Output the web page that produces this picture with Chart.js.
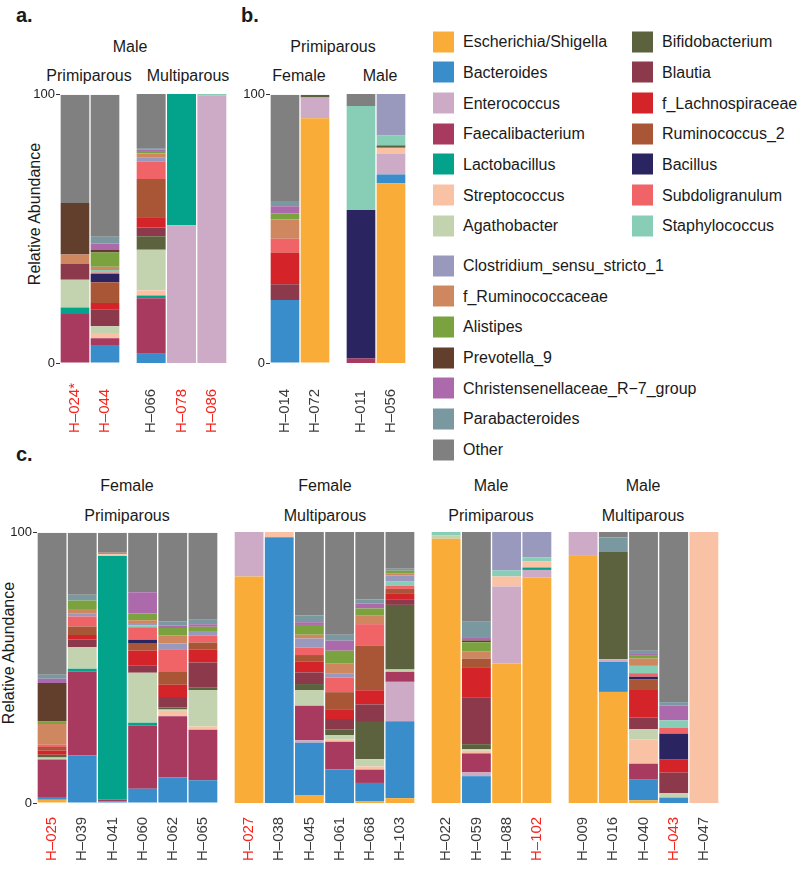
<!DOCTYPE html>
<html lang="en">
<head>
<meta charset="UTF-8">
<title>Relative abundance of genera</title>
<script src="https://cdn.jsdelivr.net/npm/chart.js"></script>
<style>
body { margin: 0; width: 800px; height: 873px; overflow: hidden; background: #fff;
       font-family: "Liberation Sans", Arial, Helvetica, sans-serif; color: #1a1a1a; }
canvas { position: absolute; }
.txt { position: absolute; white-space: nowrap; font-size: 16px; transform: translate(-50%, -50%); }
.letter { position: absolute; font-size: 20px; font-weight: bold; transform: translateY(-50%); }
.ytitle { position: absolute; font-size: 16px; white-space: nowrap; transform: translate(-50%, -50%) rotate(-90deg); }
.leg { position: absolute; font-size: 16px; white-space: nowrap; display: flex; align-items: center; transform: translateY(-50%); }
.leg span { display: inline-block; width: 21px; height: 21px; margin-right: 9px; }
</style>
</head>
<body>

<div class="letter" style="left:16px;top:15px">a.</div>
<div class="letter" style="left:241px;top:15px">b.</div>
<div class="letter" style="left:16px;top:454px">c.</div>

<div class="txt" style="left:130px;top:47px">Male</div>
<div class="txt" style="left:89px;top:76px">Primiparous</div>
<div class="txt" style="left:188px;top:76px">Multiparous</div>
<div class="txt" style="left:333px;top:47px">Primiparous</div>
<div class="txt" style="left:299px;top:76px">Female</div>
<div class="txt" style="left:380px;top:76px">Male</div>

<div class="txt" style="left:127px;top:486px">Female</div>
<div class="txt" style="left:127px;top:516px">Primiparous</div>
<div class="txt" style="left:325px;top:486px">Female</div>
<div class="txt" style="left:325px;top:516px">Multiparous</div>
<div class="txt" style="left:491px;top:486px">Male</div>
<div class="txt" style="left:491px;top:516px">Primiparous</div>
<div class="txt" style="left:643px;top:486px">Male</div>
<div class="txt" style="left:643px;top:516px">Multiparous</div>

<div class="ytitle" style="left:35px;top:214px">Relative Abundance</div>
<div class="ytitle" style="left:9px;top:653px">Relative Abundance</div>

<div id="legend"></div>

<canvas id="a1"></canvas>
<canvas id="a2"></canvas>
<canvas id="b1"></canvas>
<canvas id="b2"></canvas>
<canvas id="c1"></canvas>
<canvas id="c2"></canvas>
<canvas id="c3"></canvas>
<canvas id="c4"></canvas>

<script>
// genera, bottom of the stack first
const taxa = ['Escherichia/Shigella', 'Bacteroides', 'Enterococcus', 'Faecalibacterium',
  'Lactobacillus', 'Streptococcus', 'Agathobacter', 'Bifidobacterium', 'Blautia',
  'f_Lachnospiraceae', 'Ruminococcus_2', 'Bacillus', 'Subdoligranulum', 'Staphylococcus',
  'Clostridium_sensu_stricto_1', 'f_Ruminococcaceae', 'Alistipes', 'Prevotella_9',
  'Christensenellaceae_R\u22127_group', 'Parabacteroides', 'Other'];

// relative abundance (%) per sample, same order as taxa
//            Esc  Bac  Ent  Fae   Lac  Str  Aga  Bif  Bla  fLa  Ru2  Bcl  Sub  Sta  Clo  fRu  Ali  Pre  Chr  Par  Oth
const H024 = [0,   0,   0,   18.3, 2.4, 0,   10.3,0,   5.9, 0,   0,   0,   0,   0,   0,   3.6, 0,   19.2,0,   0,   40.3];
const H044 = [0,   6.7, 0,   2.5,  0,   2,   2.5, 0,   6.2, 2.5, 7.7, 3.1, 0.5, 1,   0,   1.2, 5.3, 0.9, 2.5, 2.5, 52.9];
const H066 = [0,   3.7, 0,   20.4, 1,   1.9, 15.1,5,   3.3, 3.8, 14.2,0,   6.4, 0,   1.5, 1.6, 0.9, 0,   0.6, 0.5, 20.1];
const H078 = [0,   0,   51.2,0,    48.8,0,   0,   0,   0,   0,   0,   0,   0,   0,   0,   0,   0,   0,   0,   0,   0];
const H086 = [0,   0,   99.4,0,    0,   0,   0,   0,   0,   0,   0,   0,   0,   0.6, 0,   0,   0,   0,   0,   0,   0];

const H014 = [0,   23.5,0,   0,    0,   0,   0,   0,   5.9, 11.8,0,   0,   5.1, 0,   0,   7.2, 2.2, 0,   2.7, 2,   39.6];
const H072 = [91.3,0,   7.7, 0,    0,   0,   0,   1,   0,   0,   0,   0,   0,   0,   0,   0,   0,   0,   0,   0,   0];
const H011 = [0,   0,   0,   1.7,  0,   0,   0,   0,   0,   0,   0,   55.2,0,   38.6,0,   0,   0,   0,   0,   0,   4.5];
const H056 = [66.8,3.3, 7.8, 0,    0,   2.1, 0,   0.9, 0,   0,   0,   0,   0,   3.7, 15.4,0,   0,   0,   0,   0,   0];

const H025 = [1.2, 1,   0,   13.9, 0,   0,   0.7, 1.1, 0,   1.5, 1.3, 0,   0.9, 0,   0,   7.6, 1,   14.2,1.6, 1.5, 52.5];
const H039 = [0,   17.6,0,   31.1, 1,   0,   8,   0,   2.8, 1.7, 3.1, 0,   3.7, 0,   1,   1.8, 3.1, 0,   0,   2.2, 22.9];
const H041 = [0,   0.6, 0,   0.7,  90.1,0.7, 0,   0,   0,   0,   0,   0,   0,   0,   0,   0.5, 0,   0,   0,   0,   7.4];
const H060 = [0,   5.3, 0,   23.4, 1,   0,   18.5,0,   2.8, 5.4, 2.8, 1.2, 4.6, 0.7, 0.9, 1,   2.5, 0,   7.9, 0,   22];
const H062 = [0,   9.4, 0,   22.7, 0,   2,   0.5, 0.7, 3.9, 4.6, 4.7, 0,   8.4, 0,   2.1, 3.1, 2.7, 0,   0.9, 1.6, 32.7];
const H065 = [0,   8.4, 0,   18.7, 0,   1.2, 13.5,1,   9.2, 4.7, 2.7, 0,   2.5, 0,   1.8, 0,   1.5, 0,   1,   1.6, 32.2];

const H027 = [83.6,0,   16.4,0,    0,   0,   0,   0,   0,   0,   0,   0,   0,   0,   0,   0,   0,   0,   0,   0,   0];
const H038 = [0,   98.1,0,   0,    0,   1.9, 0,   0,   0,   0,   0,   0,   0,   0,   0,   0,   0,   0,   0,   0,   0];
const H045 = [2.8, 19.4,1,   12.7, 0,   0,   5.8, 2.2, 4.3, 3.9, 2.5, 0,   2.8, 0,   3.3, 1.4, 3.6, 0,   1,   2.5, 30.8];
const H061 = [0,   12.5,0,   10.1, 0,   0.9, 1.6, 2.1, 3.8, 3.6, 6.3, 0,   5.4, 0,   1.6, 3.5, 4.8, 0,   3.7, 2.2, 37.9];
const H068 = [0.7, 6.7, 0,   4.9,  0,   1.2, 2.6, 13.8,6.5, 5.2, 16.4,0,   8,   0,   0,   3.3, 2.5, 0,   1.8, 1.5, 24.9];
const H103 = [1.8, 28.4,14.5,3.7,  0,   0,   0.9, 23.8,2.1, 2.2, 1.6, 0,   1.2, 1.5, 2.2, 0.9, 0.9, 0,   0,   0.7, 13.6];

const H022 = [97.5,0,   0,   0,    0,   0,   1.2, 0,   0,   0,   0,   0,   0,   1.3, 0,   0,   0,   0,   0,   0,   0];
const H059 = [0,   9.9, 1.4, 7,    0,   1,   0.6, 1.8, 17.3,11.1,3.2, 0,   0,   0,   0,   2.7, 3.3, 0.7, 0.9, 6.2, 32.9];
const H088 = [51.5,0,   28.4,0,    0,   3.7, 0,   0,   0,   0,   0,   0,   0,   2.2, 14.2,0,   0,   0,   0,   0,   0];
const H102 = [83.2,0,   2.8, 0,    0.9, 2.2, 0,   0,   0,   0,   0,   0,   0,   1.5, 9.4, 0,   0,   0,   0,   0,   0];

const H009 = [91.2,0,   8.8, 0,    0,   0,   0,   0,   0,   0,   0,   0,   0,   0,   0,   0,   0,   0,   0,   0,   0];
const H016 = [41,  11.1,1,   0,    0,   0,   0,   39.5,0,   0,   0,   0,   0,   0,   0,   0,   0,   0,   0,   5.4, 2];
const H040 = [1,   7.6, 0,   5.9,  0,   9,   3.7, 0,   4.3, 10.2,4,   0.9, 1.3, 2.7, 0,   2.7, 1,   0,   1,   0.9, 43.8];
const H043 = [0,   2,   0,   0,    0,   0,   1.7, 0,   7.5, 4.8, 0,   9.6, 2.1, 2.8, 0,   0,   0,   0,   5.5, 1.2, 62.8];
const H047 = [0,   0,   0,   0,    0,   100, 0,   0,   0,   0,   0,   0,   0,   0,   0,   0,   0,   0,   0,   0,   0];

// sample labels per group
const namesA1 = ['H\u2013024*', 'H\u2013044'];
const namesA2 = ['H\u2013066', 'H\u2013078', 'H\u2013086'];
const namesB1 = ['H\u2013014', 'H\u2013072'];
const namesB2 = ['H\u2013011', 'H\u2013056'];
const namesC1 = ['H\u2013025', 'H\u2013039', 'H\u2013041', 'H\u2013060', 'H\u2013062', 'H\u2013065'];
const namesC2 = ['H\u2013027', 'H\u2013038', 'H\u2013045', 'H\u2013061', 'H\u2013068', 'H\u2013103'];
const namesC3 = ['H\u2013022', 'H\u2013059', 'H\u2013088', 'H\u2013102'];
const namesC4 = ['H\u2013009', 'H\u2013016', 'H\u2013040', 'H\u2013043', 'H\u2013047'];
const redNames = ['H\u2013024*', 'H\u2013044', 'H\u2013078', 'H\u2013086',
  'H\u2013025', 'H\u2013027', 'H\u2013102', 'H\u2013043'];

const taxonColours = ['#f9ad38', '#3a8dcb', '#cdabc6', '#a8395f', '#02a28b', '#fac2a5', '#c3d3b0',
  '#5c623e', '#8c3a4b', '#d42329', '#a95636', '#2a2461', '#f06468', '#88cdb6', '#9899bd',
  '#cf875f', '#7aa23e', '#623f2d', '#ac6aac', '#7a98a0', '#808080'];

Chart.defaults.font.family = '"Liberation Sans", Arial, Helvetica, sans-serif';

// legend (two columns + a tail list), drawn as plain html
const legendSpots = [];
for (let i = 0; i < 7; i++) legendSpots.push([433, 41.7 + i * 30.67]);
for (let i = 0; i < 7; i++) legendSpots.push([632, 41.7 + i * 30.67]);
for (let i = 0; i < 7; i++) legendSpots.push([433, 265.5 + i * 30.67]);
const legendOrder = [0, 1, 2, 3, 4, 5, 6, 7, 8, 9, 10, 11, 12, 13, 14, 15, 16, 17, 18, 19, 20];
legendOrder.forEach((k, i) => {
  const d = document.createElement('div');
  d.className = 'leg';
  d.style.left = legendSpots[i][0] + 'px';
  d.style.top = legendSpots[i][1] + 'px';
  d.innerHTML = '<span style="background:' + taxonColours[k] + '"></span>' + taxa[k];
  document.getElementById('legend').appendChild(d);
});

// sample names under the bars, rotated, bottoms lined up
const sampleLabels = {
  id: 'sampleLabels',
  afterDraw(chart, args, opts) {
    const ctx = chart.ctx;
    const x = chart.scales.x;
    const base = chart.scales.y.getPixelForValue(0) + opts.gap;
    ctx.save();
    ctx.font = '15px "Liberation Sans", Arial, sans-serif';
    ctx.textAlign = 'left';
    ctx.textBaseline = 'middle';
    chart.data.labels.forEach((lab, i) => {
      ctx.save();
      ctx.translate(x.getPixelForTick(i), base);
      ctx.rotate(-Math.PI / 2);
      ctx.fillStyle = redNames.includes(lab) ? '#f5241c' : '#3c3c3c';
      ctx.fillText(lab, 0, 0);
      ctx.restore();
    });
    ctx.restore();
  }
};

function makeGroup(id, names, rows, left, top, plotW, plotH, yWidth, labelH, gap) {
  const canvas = document.getElementById(id);
  const padTop = 8;
  const w = yWidth + plotW;
  const h = padTop + plotH + labelH;
  canvas.width = w;
  canvas.height = h;
  canvas.style.left = left + 'px';
  canvas.style.top = (top - padTop) + 'px';
  canvas.style.width = w + 'px';
  canvas.style.height = h + 'px';

  new Chart(canvas, {
    type: 'bar',
    data: {
      labels: names,
      datasets: taxa.map((t, k) => ({
        label: t,
        data: rows.map(r => r[k]),
        backgroundColor: taxonColours[k],
        borderWidth: 0,
        categoryPercentage: 1,
        barPercentage: 0.955
      }))
    },
    options: {
      responsive: false,
      animation: false,
      layout: { padding: { top: padTop, left: 0, right: 0, bottom: 0 } },
      plugins: {
        legend: { display: false },
        tooltip: { enabled: false },
        sampleLabels: { gap: gap }
      },
      scales: {
        x: {
          stacked: true,
          grid: { display: false },
          border: { display: false },
          ticks: { display: false },
          afterFit: s => { s.height = labelH; }
        },
        y: {
          stacked: true,
          min: 0,
          max: 100,
          display: yWidth > 0,
          border: { display: false },
          grid: { drawOnChartArea: false, tickLength: 4, color: '#333' },
          ticks: { padding: 1, color: '#222', font: { size: 13 } },
          afterBuildTicks: s => { s.ticks = [{ value: 0 }, { value: 100 }]; },
          afterFit: s => { s.width = yWidth; }
        }
      }
    },
    plugins: [sampleLabels]
  });
}

// panel a
makeGroup('a1', namesA1, [H024, H044], 24, 94, 60, 269, 36, 80, 70);
makeGroup('a2', namesA2, [H066, H078, H086], 136, 94, 91, 269, 0, 80, 70);
// panel b
makeGroup('b1', namesB1, [H014, H072], 240, 94, 60, 269, 30, 80, 70);
makeGroup('b2', namesB2, [H011, H056], 346, 94, 60, 269, 0, 80, 70);
// panel c
makeGroup('c1', namesC1, [H025, H039, H041, H060, H062, H065], 0, 532, 181, 271, 37, 70, 58);
makeGroup('c2', namesC2, [H027, H038, H045, H061, H068, H103], 234, 532, 181, 271, 0, 70, 58);
makeGroup('c3', namesC3, [H022, H059, H088, H102], 431, 532, 121, 271, 0, 70, 58);
makeGroup('c4', namesC4, [H009, H016, H040, H043, H047], 568, 532, 151, 271, 0, 70, 58);
</script>
</body>
</html>
